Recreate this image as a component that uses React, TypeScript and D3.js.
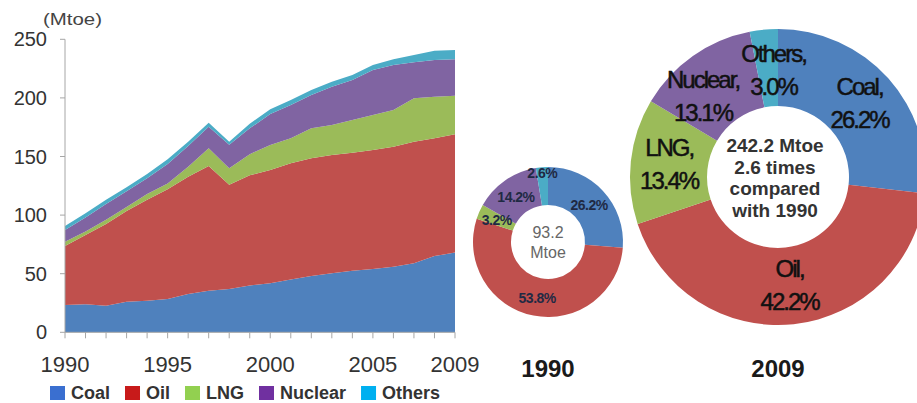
import React from "react";
import * as d3 from "d3";

const YEARS = [1990, 1991, 1992, 1993, 1994, 1995, 1996, 1997, 1998, 1999, 2000, 2001, 2002, 2003, 2004, 2005, 2006, 2007, 2008, 2009];
const COAL = [23.3, 24.0, 22.7, 26.0, 27.0, 28.4, 32.7, 35.5, 37.0, 40.0, 41.8, 45.0, 48.0, 50.3, 52.6, 54.0, 56.0, 58.9, 65.0, 68.0];
const OIL = [50.3, 59.0, 69.7, 77.5, 86.0, 93.6, 100.1, 106.5, 89.0, 94.0, 96.7, 99.2, 100.5, 101.0, 100.7, 101.6, 102.4, 103.7, 100.5, 101.0];
const LNG = [3.7, 3.0, 3.6, 3.5, 5.0, 5.0, 8.5, 15.0, 14.0, 18.0, 21.3, 21.3, 25.5, 25.6, 27.8, 29.8, 31.3, 37.1, 35.5, 32.9];
const NUCLEAR = [10.0, 12.0, 13.5, 13.3, 13.4, 16.6, 17.7, 18.4, 20.0, 22.0, 26.5, 28.5, 28.5, 32.7, 34.2, 38.4, 38.4, 30.7, 31.4, 31.1];
const OTHERS = [3.4, 3.5, 3.5, 3.4, 3.6, 4.0, 3.6, 3.4, 2.6, 4.0, 4.0, 4.2, 4.2, 4.2, 4.2, 4.3, 4.8, 6.2, 7.9, 7.9];

const SERIES = ["Coal", "Oil", "LNG", "Nuclear", "Others"];
const Y_TICKS = [0, 50, 100, 150, 200, 250];
const X_TICK_LABELS = [1990, 1995, 2000, 2005, 2009];

const SHARE_1990 = [26.2, 53.8, 3.2, 14.2, 2.6];
const SHARE_2009 = [26.2, 42.2, 13.4, 13.1, 3.0];
const TOTAL_1990 = "93.2";
const CENTER_2009 = ["242.2 Mtoe", "2.6 times", "compared", "with 1990"];

const AREA_COLORS = ["#4f81bd", "#c0504d", "#9bbb59", "#8064a2", "#4bacc6"];
const LEGEND_COLORS = ["#3a6fd0", "#c81a1a", "#92d050", "#7030a0", "#00b0f0"];
const FONT = "'Liberation Sans', Arial, sans-serif";

function measure(text: string, font: string): number {
  const c = document.createElement("canvas").getContext("2d");
  if (!c) return text.length * 10;
  c.font = font;
  return c.measureText(text).width;
}

export default function App() {
  const W = 917, H = 403;
  const x = d3.scaleLinear().domain([1990, 2009]).range([65, 455]);
  const y = d3.scaleLinear().domain([0, 250]).range([332.3, 39.3]);

  const rows = YEARS.map((yr, i) => ({
    year: yr,
    Coal: COAL[i],
    Oil: OIL[i],
    LNG: LNG[i],
    Nuclear: NUCLEAR[i],
    Others: OTHERS[i],
  }));
  const stack = d3.stack<any>().keys(SERIES)(rows);
  const area = d3
    .area<any>()
    .x((d) => x(d.data.year))
    .y0((d) => y(d[0]))
    .y1((d) => y(d[1]));

  // legend layout
  const legendFont = `bold 18px ${FONT}`;
  let lx = 50;
  const legendItems = SERIES.map((s, i) => {
    const item = { name: s, color: LEGEND_COLORS[i], x: lx };
    lx += 15 + 6 + measure(s, legendFont) + 15;
    return item;
  });

  const pie = d3.pie<number>().sort(null).value((d) => d);

  // small donut
  const s = { cx: 548, cy: 242, R: 75, r: 37 };
  const smallArcs = pie(SHARE_1990);
  const smallArc = d3.arc<any>().innerRadius(s.r).outerRadius(s.R);
  const smallLabelArc = (d: any) => {
    const rr = d.data < 3 ? s.R * 0.93 : (s.R + s.r) / 2;
    return d3.arc<any>().innerRadius(rr).outerRadius(rr).centroid(d);
  };

  // big donut
  const b = { cx: 778, cy: 177, R: 148, r: 71 };
  const bigArcs = pie(SHARE_2009);
  const bigArc = d3.arc<any>().innerRadius(b.r).outerRadius(b.R);
  const bigLabelArc = d3.arc<any>().innerRadius((b.R + b.r) / 2).outerRadius((b.R + b.r) / 2);
  // small label nudges to keep crowded labels apart (layout only)
  const labelNudge: Record<string, [number, number]> = { Nuclear: [-12, 10], Others: [6, 3] };

  return (
    <svg
      width={W}
      height={H}
      style={{ position: "absolute", left: 0, top: 0, background: "#fff", overflow: "hidden" }}
      fontFamily={FONT}
    >
      <rect width={W} height={H} fill="#fff" />
      {/* Area chart */}
      <g>
        {stack.map((layer, i) => (
          <path key={SERIES[i]} d={area(layer) || ""} fill={AREA_COLORS[i]} />
        ))}
        <line x1={65} x2={65} y1={y(250)} y2={y(0)} stroke="#a6a6a6" strokeWidth={1} />
        <line x1={65} x2={455} y1={y(0)} y2={y(0)} stroke="#a6a6a6" strokeWidth={1} />
        {Y_TICKS.map((t) => (
          <g key={t}>
            <line x1={60} x2={65} y1={y(t)} y2={y(t)} stroke="#a6a6a6" />
            <text x={47} y={y(t) + 7} textAnchor="end" fontSize={20} fill="#333">
              {t}
            </text>
          </g>
        ))}
        {YEARS.map((yr) => (
          <line key={yr} x1={x(yr)} x2={x(yr)} y1={y(0)} y2={y(0) + 6} stroke="#a6a6a6" />
        ))}
        {X_TICK_LABELS.map((yr) => (
          <text key={yr} x={x(yr)} y={372} textAnchor="middle" fontSize={22} fill="#333">
            {yr}
          </text>
        ))}
        <text x={43} y={25} fontSize={16} fill="#444" textLength={59} lengthAdjust="spacingAndGlyphs">
          (Mtoe)
        </text>
        {legendItems.map((it) => (
          <g key={it.name}>
            <rect x={it.x} y={386} width={15} height={14} fill={it.color} />
            <text x={it.x + 21} y={399} fontSize={18} fontWeight="bold" fill="#333">
              {it.name}
            </text>
          </g>
        ))}
      </g>

      {/* Small donut 1990 */}
      <g transform={`translate(${s.cx},${s.cy})`}>
        {smallArcs.map((d, i) => (
          <path key={SERIES[i]} d={smallArc(d) || ""} fill={AREA_COLORS[i]} />
        ))}
        {smallArcs.map((d, i) => {
          const [px, py] = smallLabelArc(d);
          return (
            <text key={SERIES[i]} x={px} y={py + 6} textAnchor="middle" fontSize={14} fontWeight="bold" fill="#1f2a44" letterSpacing={-0.5}>
              {d.data.toFixed(1)}%
            </text>
          );
        })}
        <text x={0} y={-4} textAnchor="middle" fontSize={16} fill="#666">
          {TOTAL_1990}
        </text>
        <text x={0} y={16} textAnchor="middle" fontSize={16} fill="#666">
          Mtoe
        </text>
      </g>
      <text x={s.cx} y={377} textAnchor="middle" fontSize={24} fontWeight="bold" fill="#1a1a1a">
        1990
      </text>

      {/* Big donut 2009 */}
      <g transform={`translate(${b.cx},${b.cy})`}>
        {bigArcs.map((d, i) => (
          <path key={SERIES[i]} d={bigArc(d) || ""} fill={AREA_COLORS[i]} />
        ))}
        {bigArcs.map((d, i) => {
          const [cx0, cy0] = bigLabelArc.centroid(d);
          const [nx, ny] = labelNudge[SERIES[i]] || [0, 0];
          const px = cx0 + nx, py = cy0 + ny;
          return (
            <g key={SERIES[i]} fill="#111" stroke="#111" strokeWidth={0.5}>
              <text x={px} y={py - 9} textAnchor="middle" fontSize={24} letterSpacing={-2}>
                {SERIES[i]},
              </text>
              <text x={px} y={py + 24} textAnchor="middle" fontSize={24} letterSpacing={-2}>
                {d.data.toFixed(1)}%
              </text>
            </g>
          );
        })}
        {CENTER_2009.map((line, i) => (
          <text key={line} x={-3} y={-25 + i * 21.7} textAnchor="middle" fontSize={19} fontWeight="bold" fill="#333">
            {line}
          </text>
        ))}
      </g>
      <text x={b.cx} y={377} textAnchor="middle" fontSize={24} fontWeight="bold" fill="#1a1a1a">
        2009
      </text>
    </svg>
  );
}
